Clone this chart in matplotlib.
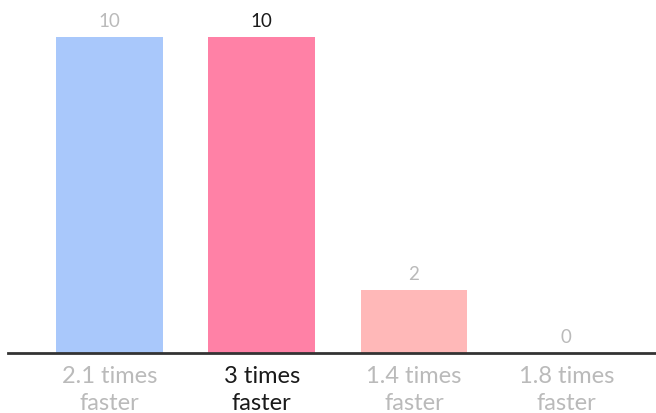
import matplotlib.pyplot as plt

labels = ['2.1 times\nfaster', '3 times\nfaster', '1.4 times\nfaster', '1.8 times\nfaster']
values = [10, 10, 2, 0]
colors = ['#a9c8fb', '#ff81a6', '#ffb8b8', '#ffffff']
text_colors = ['#bababa', '#1a1a1a', '#bababa', '#bababa']

plt.rcParams['font.family'] = ['Lato', 'DejaVu Sans']

fig = plt.figure(figsize=(6.56, 4.14), dpi=100)
ax = fig.add_axes([0.012, 1 - 354 / 414, 0.988, 316 / 414])

x = range(len(values))
ax.bar(x, values, width=0.70, color=colors)
ax.set_xlim(-0.668, 3.59)
ax.set_ylim(0, 10)

# value labels above each bar
for i, v in enumerate(values):
    ax.text(i, v + 0.25, str(v), ha='center', va='bottom', fontsize=13.5,
            color=text_colors[i], clip_on=False)

ax.set_xticks(list(x))
ax.set_xticklabels(labels, fontsize=17, linespacing=1.3)
for lbl, c in zip(ax.get_xticklabels(), text_colors):
    lbl.set_color(c)
ax.tick_params(axis='x', length=0, pad=9)
ax.set_yticks([])

for s in ['top', 'right', 'left']:
    ax.spines[s].set_visible(False)
ax.spines['bottom'].set_color('#333333')
ax.spines['bottom'].set_linewidth(2)

fig.savefig('out.png', dpi=100)
